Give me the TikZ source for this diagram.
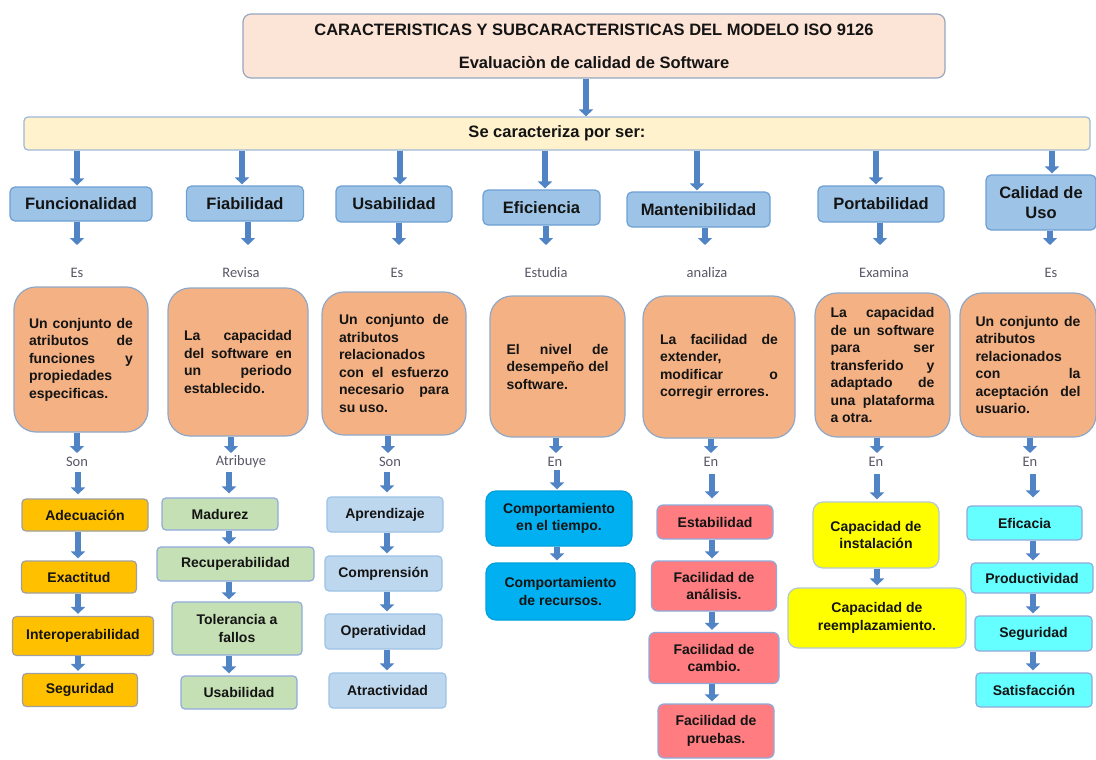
\documentclass[tikz,border=0pt]{standalone}
\usepackage{fontspec}
\setmainfont{Liberation Sans}
\newfontfamily\labfont{Carlito}
\usetikzlibrary{arrows.meta,calc}
\definecolor{arrblue}{RGB}{80,132,196}
\definecolor{titlef}{RGB}{252,228,214}
\definecolor{titled}{RGB}{150,168,190}
\definecolor{barf}{RGB}{255,242,204}
\definecolor{bard}{RGB}{157,184,217}
\definecolor{catf}{RGB}{157,195,230}
\definecolor{catd}{RGB}{110,160,212}
\definecolor{orf}{RGB}{244,177,131}
\definecolor{ord}{RGB}{143,168,200}
\definecolor{c1f}{RGB}{255,192,0}
\definecolor{c1d}{RGB}{160,160,160}
\definecolor{c2f}{RGB}{197,224,180}
\definecolor{c2d}{RGB}{143,170,220}
\definecolor{c3f}{RGB}{189,215,238}
\definecolor{c3d}{RGB}{157,195,230}
\definecolor{c4f}{RGB}{0,176,240}
\definecolor{c4d}{RGB}{0,160,220}
\definecolor{c5f}{RGB}{255,124,128}
\definecolor{c5d}{RGB}{143,170,220}
\definecolor{c6f}{RGB}{255,255,0}
\definecolor{c6d}{RGB}{180,200,215}
\definecolor{c7f}{RGB}{102,255,255}
\definecolor{c7d}{RGB}{143,170,220}
\definecolor{txt}{RGB}{20,20,20}
\definecolor{labc}{RGB}{90,88,104}
\tikzset{
 arr/.style={line width=5.5pt, draw=arrblue, -{Triangle[length=7pt,width=14pt]}},
 box/.style={draw, line width=1.2pt, inner sep=0pt, align=center, text=txt,
   font=\bfseries\fontsize{14}{17.5}\selectfont},
 catbox/.style={box, fill=catf, draw=catd, rounded corners=5pt,
   font=\bfseries\fontsize{16.5}{20}\selectfont},
 obox/.style={box, fill=orf, draw=ord, rounded corners=22pt, align=justify},
 lbl/.style={font=\labfont\fontsize{14.5}{16}\selectfont, text=labc, inner sep=0pt},
 s1/.style={box, fill=c1f, draw=c1d, rounded corners=4pt},
 s2/.style={box, fill=c2f, draw=c2d, rounded corners=4pt},
 s3/.style={box, fill=c3f, draw=c3d, rounded corners=4pt},
 s4/.style={box, fill=c4f, draw=c4d, rounded corners=10pt},
 s5/.style={box, fill=c5f, draw=c5d, rounded corners=6pt},
 s6/.style={box, fill=c6f, draw=c6d, rounded corners=10pt},
 s7/.style={box, fill=c7f, draw=c7d, rounded corners=4pt},
}
\begin{document}
\begin{tikzpicture}[x=1pt,y=-1pt]
\path[use as bounding box, fill=white] (0,0) rectangle (1096,760);

% title and bar
\node[box, fill=titlef, draw=titled, rounded corners=8pt, minimum width=702pt, minimum height=64pt,
  font=\bfseries\fontsize{16.5}{33}\selectfont] (title) at (594,46)
  {CARACTERISTICAS Y SUBCARACTERISTICAS DEL MODELO ISO 9126\\Evaluaciòn de calidad de Software};
\node[box, fill=barf, draw=bard, rounded corners=4pt, minimum width=1066pt, minimum height=33pt,
  font=\bfseries\fontsize{16.5}{20}\selectfont] (bar) at (557,133.5) {Se caracteriza por ser:};
\draw[arr] ([xshift=-8pt]title.south) -- ([xshift=-8pt]title.south |- bar.north);

% categories
\node[catbox, minimum width=142pt, minimum height=34pt] (c1) at (81,204) {Funcionalidad};
\node[catbox, minimum width=117pt, minimum height=35pt] (c2) at (245,203.5) {Fiabilidad};
\node[catbox, minimum width=116pt, minimum height=36pt] (c3) at (394,204) {Usabilidad};
\node[catbox, minimum width=117pt, minimum height=35pt] (c4) at (541.5,207.5) {Eficiencia};
\node[catbox, minimum width=143pt, minimum height=35pt] (c5) at (698.5,209.5) {Mantenibilidad};
\node[catbox, minimum width=126pt, minimum height=36pt] (c6) at (881,204) {Portabilidad};
\node[catbox, minimum width=110pt, minimum height=55pt] (c7) at (1041,202.5) {Calidad de\\Uso};

% first labels
\node[lbl] (l1) at (77,273) {Es};
\node[lbl] (l2) at (241,273) {Revisa};
\node[lbl] (l3) at (397,273) {Es};
\node[lbl] (l4) at (546,273) {Estudia};
\node[lbl] (l5) at (707,273) {analiza};
\node[lbl] (l6) at (884,273) {Examina};
\node[lbl] (l7) at (1051,273) {Es};

% orange boxes
\node[obox, minimum width=134pt, minimum height=145pt, text width=104pt] (o1) at (81,359.5)
 {Un conjunto de\linebreak atributos de\linebreak funciones y\linebreak propiedades\linebreak especificas.};
\node[obox, minimum width=140pt, minimum height=148pt, text width=108pt] (o2) at (238,362)
 {La capacidad\linebreak del software en\linebreak un periodo\linebreak establecido.};
\node[obox, minimum width=144pt, minimum height=143pt, text width=110pt] (o3) at (394,363.5)
 {Un conjunto de\linebreak atributos\linebreak relacionados\linebreak con el esfuerzo\linebreak necesario para\linebreak su uso.};
\node[obox, minimum width=135pt, minimum height=141pt, text width=102pt] (o4) at (557.5,366.5)
 {El nivel de\linebreak desempeño del\linebreak software.};
\node[obox, minimum width=152pt, minimum height=142pt, text width=118pt] (o5) at (719,367)
 {La facilidad de\linebreak extender,\linebreak modificar o\linebreak corregir errores.};
\node[obox, minimum width=135pt, minimum height=144pt, text width=104pt] (o6) at (882.5,365)
 {La capacidad\linebreak de un software\linebreak para ser\linebreak transferido y\linebreak adaptado de\linebreak una plataforma\linebreak a otra.};
\node[obox, minimum width=136pt, minimum height=144pt, text width=105pt] (o7) at (1028,365)
 {Un conjunto de\linebreak atributos\linebreak relacionados\linebreak con la\linebreak aceptación del\linebreak usuario.};

% second labels
\node[lbl] (m1) at (77,462) {Son};
\node[lbl] (m2) at (241,462) {Atribuye};
\node[lbl] (m3) at (390,462) {Son};
\node[lbl] (m4) at (555,462) {En};
\node[lbl] (m5) at (711,462) {En};
\node[lbl] (m6) at (876,462) {En};
\node[lbl] (m7) at (1030,462) {En};

% sub boxes
\node[s1, minimum width=126pt, minimum height=32pt] (a1) at (85,515) {Adecuación};
\node[s1, minimum width=115pt, minimum height=32pt] (a2) at (79,577) {Exactitud};
\node[s1, minimum width=141pt, minimum height=39pt] (a3) at (83,636) {Interoperabilidad};
\node[s1, minimum width=115pt, minimum height=33pt] (a4) at (80,690) {Seguridad};

\node[s2, minimum width=116pt, minimum height=32pt] (b1) at (220,514) {Madurez};
\node[s2, minimum width=157pt, minimum height=34pt] (b2) at (235.5,564) {Recuperabilidad};
\node[s2, minimum width=130pt, minimum height=53pt] (b3) at (237,628.5) {Tolerancia a\\fallos};
\node[s2, minimum width=116pt, minimum height=33pt] (b4) at (239,692.5) {Usabilidad};

\node[s3, minimum width=116pt, minimum height=35pt] (d1) at (385,514.5) {Aprendizaje};
\node[s3, minimum width=117pt, minimum height=35pt] (d2) at (383.5,573.5) {Comprensión};
\node[s3, minimum width=117pt, minimum height=35pt] (d3) at (383.5,631.5) {Operatividad};
\node[s3, minimum width=117pt, minimum height=35pt] (d4) at (387.5,690.5) {Atractividad};

\node[s4, minimum width=146pt, minimum height=55pt] (e1) at (559,518.5) {Comportamiento\\en el tiempo.};
\node[s4, minimum width=149pt, minimum height=57pt] (e2) at (560.5,591.5) {Comportamiento\\de recursos.};

\node[s5, minimum width=116pt, minimum height=34pt] (f1) at (715,522) {Estabilidad};
\node[s5, minimum width=125pt, minimum height=50pt] (f2) at (714,586) {Facilidad de\\análisis.};
\node[s5, minimum width=130pt, minimum height=51pt] (f3) at (714,658) {Facilidad de\\cambio.};
\node[s5, minimum width=116pt, minimum height=54pt] (f4) at (716,731) {Facilidad de\\pruebas.};

\node[s6, minimum width=126pt, minimum height=66pt] (g1) at (876,535) {Capacidad de\\instalación};
\node[s6, minimum width=178pt, minimum height=60pt] (g2) at (877,618) {Capacidad de\\reemplazamiento.};

\node[s7, minimum width=115pt, minimum height=34pt] (h1) at (1024.5,523) {Eficacia};
\node[s7, minimum width=122pt, minimum height=30pt] (h2) at (1032,578) {Productividad};
\node[s7, minimum width=117pt, minimum height=35pt] (h3) at (1033.5,633.5) {Seguridad};
\node[s7, minimum width=116pt, minimum height=34pt] (h4) at (1034,690) {Satisfacción};

% arrow columns
\foreach \i/\xt/\xc/\xo/\xs in {1/77/77/77/78, 2/242/248/231/229, 3/400/399/388/387,
  4/545/546/556/557, 5/697/705/711/712, 6/876/880/877/877, 7/1052/1050/1030/1033}{
  \coordinate (xt\i) at (\xt,0);
  \coordinate (xc\i) at (\xc,0);
  \coordinate (xo\i) at (\xo,0);
  \coordinate (xs\i) at (\xs,0);
}
\foreach \i in {1,...,7}{
  \draw[arr, shorten >=1pt] (bar.south -| xt\i) -- (c\i.north -| xt\i);
  \draw[arr] (c\i.south -| xc\i) -- ($(l\i.center -| xc\i)+(0,-28)$);
  \draw[arr] (o\i.south -| xo\i) -- ($(m\i.center -| xo\i)+(0,-9)$);
}
\draw[arr, shorten >=4pt] ($(m1.center -| xs1)+(0,10)$) -- (a1.north -| xs1);
\draw[arr, shorten >=4pt] ($(m2.center -| xs2)+(0,10)$) -- (b1.north -| xs2);
\draw[arr, shorten >=4pt] ($(m3.center -| xs3)+(0,10)$) -- (d1.north -| xs3);
\draw[arr, shorten >=1pt] ($(m4.center -| xs4)+(0,8)$) -- (e1.north -| xs4);
\draw[arr, shorten >=6pt] ($(m5.center -| xs5)+(0,12)$) -- (f1.north -| xs5);
\draw[arr, shorten >=2pt] ($(m6.center -| xs6)+(0,12)$) -- (g1.north -| xs6);
\draw[arr, shorten >=8pt] ($(m7.center -| xs7)+(0,12)$) -- (h1.north -| xs7);

\foreach \a/\b/\k in {a1/a2/1, a2/a3/1, a3/a4/1, b1/b2/2, b2/b3/2, b3/b4/2,
  d1/d2/3, d2/d3/3, d3/d4/3, e1/e2/4, f1/f2/5, f2/f3/5, f3/f4/5, g1/g2/6,
  h1/h2/7, h2/h3/7, h3/h4/7}{
  \draw[arr, shorten >=2pt] (\a.south -| xs\k) -- (\b.north -| xs\k);
}
\end{tikzpicture}
\end{document}
